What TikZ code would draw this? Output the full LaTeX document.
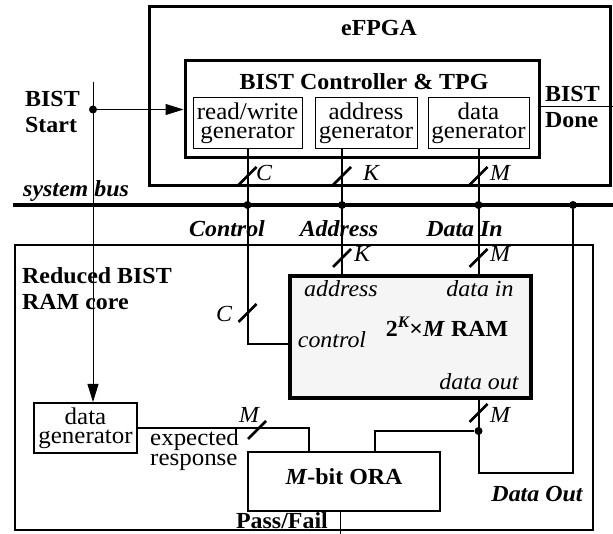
\documentclass[tikz,border=0pt]{standalone}
\usepackage{fontspec}
\setmainfont{Liberation Serif}[FakeStretch=1.04]
\usetikzlibrary{arrows.meta}
\tikzset{
  blk/.style={draw, line width=#1, inner sep=0pt},
  gen/.style={draw, line width=1pt, inner sep=0pt, align=center, minimum height=51pt, font=\fontsize{24}{19}\selectfont},
  sig/.style={line width=2pt},
  wire/.style={line width=1pt},
  into/.style={-{Triangle[length=18pt,width=11pt]}, wire},
  lab/.style={font=\fontsize{23}{26}\selectfont\bfseries, align=left, inner sep=0pt},
  busname/.style={font=\fontsize{23}{26}\selectfont\bfseries\itshape, inner sep=0pt},
  wid/.style={font=\fontsize{23}{26}\selectfont\itshape, inner sep=0pt},
  port/.style={font=\fontsize{23}{26}\selectfont\itshape, inner sep=0pt},
  dot/.style={circle, fill, inner sep=0pt, minimum size=8pt},
  slash/.pic={\draw[line width=2.5pt] (-9,9) -- (9,-9);},
}
\begin{document}
\begin{tikzpicture}[x=1pt,y=-1pt]
  \useasboundingbox (0,0) rectangle (613,534);
  % eFPGA with the BIST controller
  \node[blk=3pt, minimum width=461pt, minimum height=179pt] (efpga) at (379.5,96.5) {};
  \node[lab, anchor=base] (efpgat) at (379,36) {eFPGA};
  \node[blk=3pt, minimum width=354pt, minimum height=97pt] (ctrl) at (362,109.5) {};
  \node[lab, anchor=base] (ctrlt) at (364,90) {BIST Controller \& TPG};
  \node[gen, minimum width=109pt] (rwgen) at (247.5,123.5) {read/write\\generator};
  \node[gen, minimum width=102pt] (addrgen) at (366,123.5) {address\\generator};
  \node[gen, minimum width=101pt] (datagen) at (478.5,123.5) {data\\generator};
  % BIST start / done
  \node[lab, anchor=base west] (start) at (25,133) {BIST\\Start};
  \node[lab, anchor=base west] (done) at (545,128) {BIST\\Done};
  \coordinate (stop) at (93,82);
  \node[dot] (sdot) at (93,109.5) {};
  \coordinate (dright) at (613,107);
  % system bus
  \coordinate (busl) at (13,205);
  \coordinate (busr) at (613,205);
  \draw[line width=4pt] (busl) -- (busr);
  \node[busname, anchor=base west] (bust) at (23,197) {system bus};
  \node[dot] (cdot) at (247.5,205) {};
  \node[dot] (adot) at (342,205) {};
  \node[dot] (idot) at (478.5,205) {};
  \node[dot] (odot) at (573,205) {};
  \node[busname, anchor=base] at (227,237) {Control};
  \node[busname, anchor=base] at (339,237) {Address};
  \node[busname, anchor=base] at (464.5,237) {Data In};
  % reduced BIST RAM core
  \node[blk=2pt, minimum width=578pt, minimum height=285pt] (core) at (304,387.5) {};
  \node[lab, anchor=base west] (coret) at (22,310) {Reduced BIST\\RAM core};
  \node[blk=3.5pt, fill=black!4, minimum width=241pt, minimum height=122pt] (ram) at (410.5,337) {};
  \node[lab, anchor=base] at (447,337) {2\textsuperscript{\itshape K}×\textit{M} RAM};
  \node[port, anchor=base] at (341,297) {address};
  \node[port, anchor=base] at (480,297) {data in};
  \node[port, anchor=base] at (332,348) {control};
  \node[port, anchor=base] at (479,390) {data out};
  \node[blk=2.5pt, minimum width=192pt, minimum height=59pt] (ora) at (344,481.5) {};
  \node[lab, anchor=base] at (344,484) {\textit{M}-bit ORA};
  \node[gen, line width=2pt, minimum width=103pt, minimum height=50pt] (dgen) at (85.5,428) {data\\generator};
  \node[font=\fontsize{24}{20}\selectfont, align=left, inner sep=0pt, anchor=base west] at (150,465) {expected\\response};
  \node[busname, anchor=base] at (537,501) {Data Out};
  \node[lab, anchor=base east] at (328,528) {Pass/Fail};
  \coordinate (adr) at (342,0);
  \coordinate (din) at (478.5,0);
  \coordinate (ctl) at (290,344);
  \coordinate (ojoin) at (478.5,431);
  \coordinate (oturn) at (478.5,473);
  \coordinate (cmp) at (375,0);
  \coordinate (expx) at (309,0);
  \coordinate (pf) at (340,534);
  % connectors
  \draw[into] (stop) -- (dgen.north -| stop);
  \draw[into] (sdot) -- (ctrl.west);
  \draw[wire] (ctrl.east |- dright) -- (dright);
  \draw[sig] (rwgen.south) |- (ctl);
  \draw[sig] (addrgen.south -| adr) -- (ram.north -| adr);
  \draw[sig] (datagen.south) -- (ram.north -| din);
  \draw[sig] (ram.south -| din) -- (oturn) -| (odot);
  \node[dot] (ojdot) at (ojoin) {};
  \draw[sig] (ojdot) -| (ora.north -| cmp);
  \draw[sig] (dgen.east) -| (ora.north -| expx);
  \draw[wire] (ora.south -| pf) -- (pf);
  % bus widths
  \pic at (247.5,176) {slash};  \node[wid, anchor=base] at (264,181) {C};
  \pic at (247.5,313) {slash};  \node[wid, anchor=base] at (224,322) {C};
  \pic at (342,176) {slash};    \node[wid, anchor=base] at (371,181) {K};
  \pic at (342,258) {slash};    \node[wid, anchor=base] at (362,262) {K};
  \pic at (478.5,176) {slash};  \node[wid, anchor=base] at (500,181) {M};
  \pic at (478.5,258) {slash};  \node[wid, anchor=base] at (500,262) {M};
  \pic at (478.5,413) {slash};  \node[wid, anchor=base] at (500,422) {M};
  \pic at (257,430) {slash};    \node[wid, anchor=base] at (249,422) {M};
\end{tikzpicture}
\end{document}
